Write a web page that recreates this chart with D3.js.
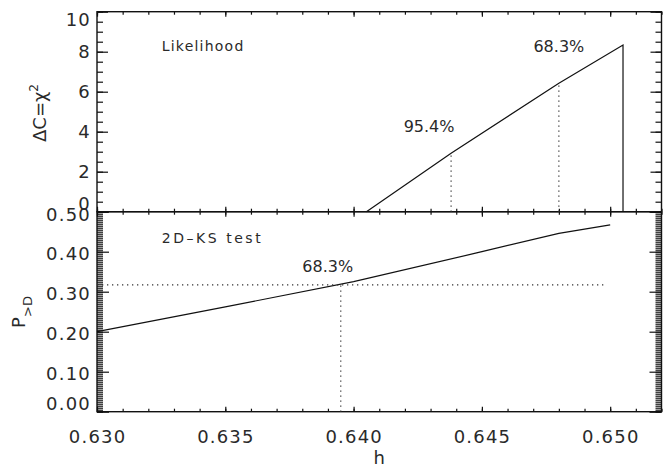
<!DOCTYPE html>
<html lang="en">
<head>
<meta charset="utf-8">
<title>Likelihood and 2D-KS test</title>
<script src="https://cdn.jsdelivr.net/npm/d3@7"></script>
<style>
  body { margin: 0; background: #fff; }
  text { font-family: "DejaVu Sans", sans-serif; fill: #2a2a2a; }
</style>
</head>
<body>
<script>
// data
var likeH = [0.6405, 0.6438, 0.6480, 0.6505, 0.6505];
var likeC = [0, 2.92, 6.42, 8.33, 0];
var likeLevels = ["95.4%", "68.3%"];
var likeLevelH = [0.6438, 0.6480];
var likeLevelC = [2.92, 6.42];

var ksH = [0.630, 0.635, 0.640, 0.645, 0.648, 0.650];
var ksP = [0.200, 0.262, 0.325, 0.400, 0.446, 0.467];
var ksLevel = "68.3%";
var ksLevelH = 0.6395;
var ksLevelP = 0.317;
var ksLevelEnd = 0.6498;

var hTicks = [0.630, 0.635, 0.640, 0.645, 0.650];
var cTicks = [0, 2, 4, 6, 8, 10];
var pTicks = [0.00, 0.10, 0.20, 0.30, 0.40, 0.50];

var w = 663, h = 468;
var left = 97, right = 661.5;
var topY = 11.7, midY = 211.7, botY = 411.7;

var svg = d3.select("body").append("svg")
  .attr("width", w).attr("height", h);

var x = d3.scaleLinear().domain([0.630, 0.652]).range([left, right]);
var yC = d3.scaleLinear().domain([0, 10]).range([midY, topY]);
var yP = d3.scaleLinear().domain([0, 0.5]).range([botY, midY]);

var xMinor = d3.range(0.630, 0.6525, 0.001);
var cMinor = d3.range(0, 10.01, 0.5);
var pMinor = d3.range(0, 0.5001, 0.005);

function tickAxis(axisFn, scale, values, size, tx, ty) {
  var g = svg.append("g")
    .attr("transform", "translate(" + tx + "," + ty + ")")
    .call(axisFn(scale).tickValues(values).tickSize(size).tickSizeOuter(0).tickFormat(""));
  g.select(".domain").remove();
  g.selectAll("line").attr("stroke", "#111").attr("stroke-width", 1.2);
}

// x ticks: bottom and top of each panel
[[botY, d3.axisTop], [midY, d3.axisTop], [midY, d3.axisBottom], [topY, d3.axisBottom]].forEach(function(a) {
  tickAxis(a[1], x, xMinor, 3, 0, a[0]);
  tickAxis(a[1], x, hTicks, 5, 0, a[0]);
});
// y ticks top panel
tickAxis(d3.axisRight, yC, cMinor, 6, left, 0);
tickAxis(d3.axisRight, yC, cTicks, 11, left, 0);
tickAxis(d3.axisLeft, yC, cMinor, 6, right, 0);
tickAxis(d3.axisLeft, yC, cTicks, 11, right, 0);
// y ticks bottom panel
tickAxis(d3.axisRight, yP, pMinor, 6, left, 0);
tickAxis(d3.axisRight, yP, pTicks, 12, left, 0);
tickAxis(d3.axisLeft, yP, pMinor, 6, right, 0);
tickAxis(d3.axisLeft, yP, pTicks, 12, right, 0);

// frames
[[topY, midY], [midY, botY]].forEach(function(p) {
  svg.append("rect")
    .attr("x", left).attr("y", p[0])
    .attr("width", right - left).attr("height", p[1] - p[0])
    .attr("fill", "none").attr("stroke", "#111").attr("stroke-width", 1.4);
});

// tick labels
svg.selectAll(".xl").data(hTicks).enter().append("text")
  .attr("x", function(d) { return x(d) + 0.6; })
  .attr("y", 443)
  .attr("text-anchor", "middle")
  .attr("font-size", "18px").attr("letter-spacing", "1.2px")
  .text(function(d) { return d3.format(".3f")(d); });

svg.selectAll(".yc").data(cTicks).enter().append("text")
  .attr("x", 91)
  .attr("y", function(d) {
    var off = d === 10 ? 8 : (d === 0 ? -8 : 0);
    return yC(d) + 6.5 + off;
  })
  .attr("text-anchor", "end")
  .attr("font-size", "18px").attr("letter-spacing", "1.2px")
  .text(function(d) { return d; });

svg.selectAll(".yp").data(pTicks).enter().append("text")
  .attr("x", 91)
  .attr("y", function(d) {
    var off = d === 0 ? -8 : (d === 0.5 ? 2.5 : 1.5);
    return yP(d) + 6.5 + off;
  })
  .attr("text-anchor", "end")
  .attr("font-size", "18px").attr("letter-spacing", "1.2px")
  .text(function(d) { return d3.format(".2f")(d); });

// axis titles
svg.append("text")
  .attr("x", 379.3).attr("y", 464)
  .attr("text-anchor", "middle").attr("font-size", "18px")
  .text("h");

var t1 = svg.append("text")
  .attr("transform", "translate(46,113) rotate(-90)")
  .attr("text-anchor", "middle").attr("font-size", "18px");
t1.append("tspan").text("\u0394C=\u03C7");
t1.append("tspan").attr("font-size", "12px").attr("dy", -8).text("2");

var t2 = svg.append("text")
  .attr("transform", "translate(25,312) rotate(-90)")
  .attr("text-anchor", "middle").attr("font-size", "18px");
t2.append("tspan").text("P");
t2.append("tspan").attr("font-size", "13px").attr("dy", 7).text(">D");

// curves
var line = d3.line().x(function(d) { return x(d[0]); });

svg.append("path")
  .datum(d3.zip(likeH, likeC))
  .attr("d", line.y(function(d) { return yC(d[1]); }))
  .attr("fill", "none").attr("stroke", "#111").attr("stroke-width", 1.2);

svg.append("path")
  .datum(d3.zip(ksH, ksP))
  .attr("d", line.y(function(d) { return yP(d[1]); }))
  .attr("fill", "none").attr("stroke", "#111").attr("stroke-width", 1.2);

// confidence markers
svg.selectAll(".lv").data(likeLevelH).enter().append("line")
  .attr("x1", function(d) { return x(d); })
  .attr("x2", function(d) { return x(d); })
  .attr("y1", yC(0))
  .attr("y2", function(d, i) { return yC(likeLevelC[i]); })
  .attr("stroke", "#333").attr("stroke-width", 1.2).attr("stroke-dasharray", "1.3 3.7");

var lvOff = [[-22, -21], [0, -31]];
svg.selectAll(".lt").data(likeLevels).enter().append("text")
  .attr("x", function(d, i) { return x(likeLevelH[i]) + lvOff[i][0]; })
  .attr("y", function(d, i) { return yC(likeLevelC[i]) + lvOff[i][1]; })
  .attr("text-anchor", "middle").attr("font-size", "16px")
  .text(function(d) { return d; });

svg.append("line")
  .attr("x1", x(0.630)).attr("x2", x(ksLevelEnd))
  .attr("y1", yP(ksLevelP)).attr("y2", yP(ksLevelP))
  .attr("stroke", "#333").attr("stroke-width", 1.2).attr("stroke-dasharray", "1.3 3.7");
svg.append("line")
  .attr("x1", x(ksLevelH)).attr("x2", x(ksLevelH))
  .attr("y1", yP(0)).attr("y2", yP(ksLevelP))
  .attr("stroke", "#333").attr("stroke-width", 1.2).attr("stroke-dasharray", "1.3 3.7");
svg.append("text")
  .attr("x", x(ksLevelH) - 13).attr("y", yP(ksLevelP) - 12.5)
  .attr("text-anchor", "middle").attr("font-size", "16px")
  .text(ksLevel);

// panel names
svg.append("text")
  .attr("x", 161.7).attr("y", 51)
  .attr("font-size", "14px").attr("textLength", 81.6).attr("lengthAdjust", "spacing")
  .text("Likelihood");
svg.append("text")
  .attr("x", 161.7).attr("y", 243.3)
  .attr("font-size", "14px").attr("textLength", 99).attr("lengthAdjust", "spacing")
  .text("2D\u2013KS test");
</script>
</body>
</html>
